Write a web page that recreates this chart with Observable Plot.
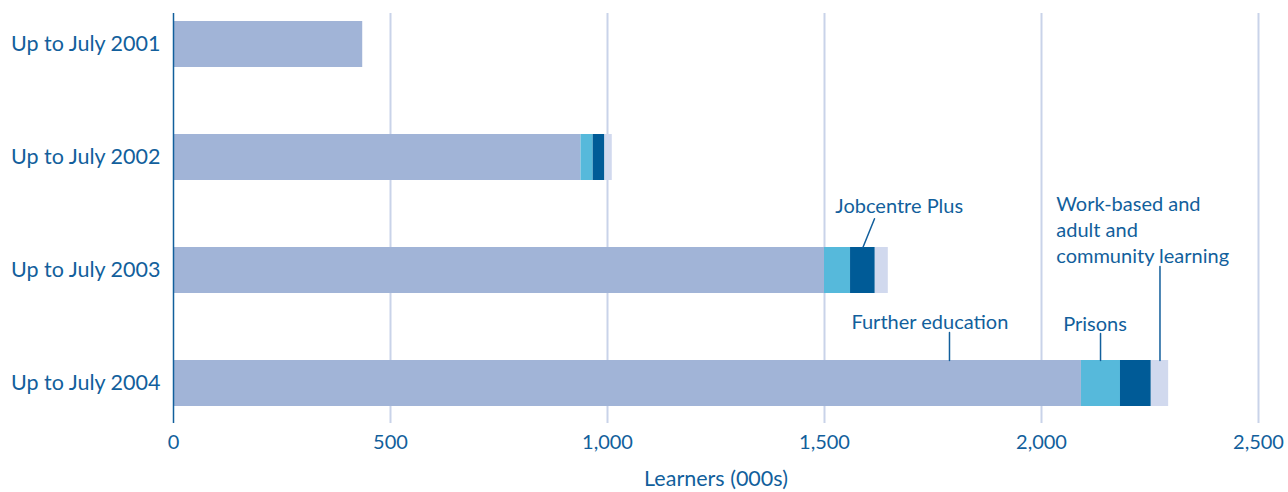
<!DOCTYPE html>
<html><head><meta charset="utf-8">
<script src="https://cdn.jsdelivr.net/npm/d3@7"></script>
<script src="https://cdn.jsdelivr.net/npm/@observablehq/plot@0.6"></script>
<style>body{margin:0;background:#fff}</style>
</head><body><div id="chart"></div>
<script>
const years = ["Up to July 2001", "Up to July 2002", "Up to July 2003", "Up to July 2004"];
const furtherEducation = [436, 939, 1500, 2092];
const prisons = [0, 28, 60, 90];
const jobcentrePlus = [0, 27, 57, 71];
const workBased = [0, 17, 30, 40];
const seriesNames = ["Further education", "Prisons", "Jobcentre Plus", "Work-based and adult and community learning"];
const seriesColors = ["#a1b4d7", "#56b9db", "#005b97", "#d1d9ee"];
const xTicks = [0, 500, 1000, 1500, 2000, 2500];
const gridTicks = [500, 1000, 1500, 2000, 2500];

const seriesValues = [furtherEducation, prisons, jobcentrePlus, workBased];
const table = [];
years.forEach((year, i) => {
  seriesNames.forEach((s, j) => table.push({year, series: s, value: seriesValues[j][i]}));
});

const ink = "#125f9c";
const grid = "#c9d3e9";

// annotation anchors (data units / categories)
const notes = [
  {label: "Jobcentre Plus", x: 1525, year: years[2], dy: -66},
  {label: "Further education", x: 1562, year: years[3], dy: -63},
  {label: "Prisons", x: 2050, year: years[3], dy: -61},
  {label: "Work-based and\nadult and\ncommunity learning", x: 2034, year: years[3], dy: -155}
];
const leaders = [
  {x: 1588.5, year: years[2], length: 31, rotate: 22},
  {x: 1788, year: years[3], length: 28, rotate: 0},
  {x: 2136, year: years[3], length: 27, rotate: 0},
  {x: 2273, year: years[3], length: 94, rotate: 0}
];

const chart = Plot.plot({
  width: 1288,
  height: 492,
  marginTop: 13,
  marginBottom: 69,
  marginLeft: 173,
  marginRight: 30,
  style: {fontFamily: "Lato, 'Noto Sans', sans-serif", fontSize: "20px", color: ink, background: "#fff"},
  x: {domain: [0, 2500]},
  y: {domain: years, paddingInner: 0.594, paddingOuter: 0.106, align: 0.333},
  color: {domain: seriesNames, range: seriesColors},
  marks: [
    Plot.ruleX(gridTicks, {stroke: grid, strokeWidth: 2}),
    Plot.barX(table, {x: "value", y: "year", fill: "series"}),
    Plot.ruleX([0], {stroke: ink, strokeWidth: 1.5}),
    Plot.axisY({tickSize: 0, tickPadding: 13, label: null, fontSize: 21.5}),
    Plot.axisX({ticks: xTicks, tickSize: 0, tickPadding: 11, tickFormat: d3.format(","), fontSize: 20, label: null}),
    Plot.axisX({ticks: [], tickSize: 0, fontSize: 21.5, dx: -16,
      label: "Learners (000s)", labelAnchor: "center", labelArrow: false, labelOffset: 62}),
    ...leaders.map(d => Plot.vector([d], {x: "x", y: "year", length: d.length, rotate: d.rotate, anchor: "start", r: 0,
      stroke: ink, strokeWidth: 1.5, dy: -23})),
    ...notes.map(d => Plot.text([d], {x: "x", y: "year", text: "label", textAnchor: "start", lineAnchor: "middle",
      lineHeight: 1.3, dy: d.dy, fill: ink, fontSize: 20}))
  ]
});
document.getElementById("chart").appendChild(chart);
</script>
</body></html>
